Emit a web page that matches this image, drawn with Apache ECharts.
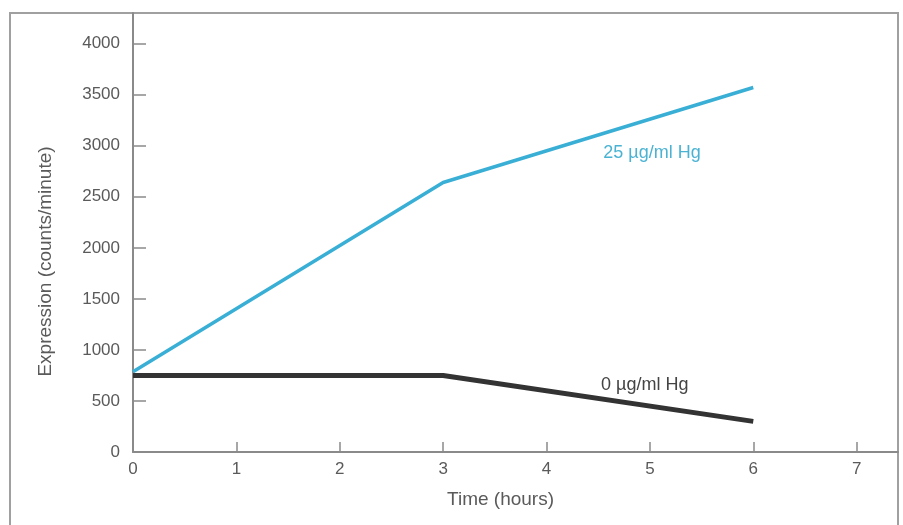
<!DOCTYPE html>
<html>
<head>
<meta charset="utf-8">
<script src="https://cdn.jsdelivr.net/npm/echarts@6/dist/echarts.min.js"></script>
<style>
  html, body { margin: 0; padding: 0; background: #fff; }
  #chart { width: 903px; height: 525px; }
</style>
</head>
<body>
<div id="chart"></div>
<script>
// time points (hours)
const hours = [0, 3, 6]
// expression, counts/minute
const hg25 = [785, 2640, 3570]
const hg0 = [750, 750, 300]
const xTicks = [0, 1, 2, 3, 4, 5, 6, 7]
const yTicks = [0, 500, 1000, 1500, 2000, 2500, 3000, 3500, 4000]
const seriesNames = ['25 µg/ml Hg', '0 µg/ml Hg']
// where the series names sit, in data units
const nameSpots = [[5.02, 2930], [4.95, 660]]

const chart = echarts.init(document.getElementById('chart'))

const font = 'Liberation Sans, Arial, sans-serif'
const textGray = '#5a5a5a'
const axisGray = '#8a8a8a'

const pair = (xs, ys) => xs.map((x, i) => [x, ys[i]])

const nameMark = (spot, name, color) => ({
  symbol: 'circle',
  symbolSize: 0,
  silent: true,
  label: {
    show: true,
    position: 'inside',
    formatter: name,
    color: color,
    fontFamily: font,
    fontSize: 18
  },
  data: [{ coord: spot }]
})

const option = {
  animation: false,
  graphic: [{
    type: 'rect',
    shape: { x: 10, y: 13, width: 888, height: 530 },
    style: { fill: 'none', stroke: '#a0a0a0', lineWidth: 2 },
    z: -1
  }],
  grid: {
    left: 133,
    top: 13,
    right: 5,
    bottom: 73
  },
  xAxis: {
    type: 'value',
    min: 0,
    max: 7.4,
    name: 'Time (hours)',
    nameLocation: 'middle',
    nameGap: 38,
    nameTextStyle: {
      color: textGray,
      fontFamily: font,
      fontSize: 19,
      padding: [0, 30, 0, 0]
    },
    axisLine: { lineStyle: { color: axisGray, width: 2 } },
    axisTick: {
      inside: true,
      length: 10,
      customValues: xTicks,
      lineStyle: { color: axisGray, width: 1.5 }
    },
    axisLabel: {
      customValues: xTicks,
      color: textGray,
      fontFamily: font,
      fontSize: 17,
      margin: 9
    },
    splitLine: { show: false }
  },
  yAxis: {
    type: 'value',
    min: 0,
    max: 4300,
    name: 'Expression (counts/minute)',
    nameLocation: 'middle',
    nameGap: 78,
    nameTextStyle: {
      color: textGray,
      fontFamily: font,
      fontSize: 19,
      padding: [0, 58, 0, 0]
    },
    axisLine: { show: true, lineStyle: { color: axisGray, width: 2 } },
    axisTick: {
      show: true,
      inside: true,
      length: 13,
      customValues: yTicks,
      lineStyle: { color: axisGray, width: 1.5 }
    },
    axisLabel: {
      customValues: yTicks,
      formatter: v => String(v),
      color: textGray,
      fontFamily: font,
      fontSize: 17,
      margin: 13
    },
    splitLine: { show: false }
  },
  series: [
    {
      name: seriesNames[0],
      type: 'line',
      data: pair(hours, hg25),
      symbol: 'none',
      z: 3,
      lineStyle: { color: '#3aafd6', width: 3.5 },
      markPoint: nameMark(nameSpots[0], seriesNames[0], '#4ab3d3')
    },
    {
      name: seriesNames[1],
      type: 'line',
      data: pair(hours, hg0),
      symbol: 'none',
      z: 2,
      lineStyle: { color: '#333333', width: 5 },
      markPoint: nameMark(nameSpots[1], seriesNames[1], '#444444')
    }
  ]
}

chart.setOption(option)
</script>
</body>
</html>
